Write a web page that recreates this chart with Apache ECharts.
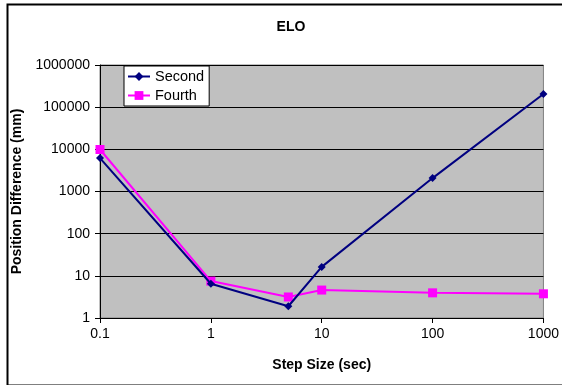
<!DOCTYPE html>
<html>
<head>
<meta charset="utf-8">
<script src="https://cdn.jsdelivr.net/npm/echarts@6/dist/echarts.min.js"></script>
<style>
  html, body { margin: 0; padding: 0; background: #fff; }
  #chart { width: 562px; height: 385px; }
</style>
</head>
<body>
<div id="chart"></div>
<script>
// Step sizes (sec) and position differences (mm) for the two integrators
const stepSizes = [0.1, 1, 5, 10, 100, 1000];
const secondValues = [6200, 6.5, 1.9, 16.3, 2080, 206000];
const fourthValues = [9900, 7.5, 3.15, 4.6, 3.95, 3.75];
const seriesNames = ['Second', 'Fourth'];

const FONT = 'Liberation Sans, Arial, sans-serif';

const pairs = vals => stepSizes.map((x, i) => [x, vals[i]]);
const plainNumber = v => {
  const r = Math.round(v * 1000) / 1000;
  return String(r);
};

const chart = echarts.init(document.getElementById('chart'), null, { renderer: 'canvas' });

chart.setOption({
  animation: false,
  backgroundColor: '#ffffff',
  title: {
    text: 'ELO',
    left: 286,
    textAlign: 'center',
    top: 15,
    textStyle: { fontFamily: FONT, fontSize: 14, fontWeight: 'bold', color: '#000' }
  },
  legend: {
    orient: 'vertical',
    left: 124,
    top: 66,
    padding: [3, 5, 3, 3],
    itemGap: 4,
    itemWidth: 22,
    itemHeight: 11,
    itemTextGap: 3,
    backgroundColor: '#ffffff',
    borderColor: '#000000',
    borderWidth: 1,
    borderRadius: 0,
    textStyle: { fontFamily: FONT, fontSize: 14.5, color: '#000' },
    data: seriesNames
  },
  grid: {
    left: 100,
    right: 16,
    top: 65,
    bottom: 67,
    show: true,
    backgroundColor: '#C0C0C0',
    borderColor: '#808080',
    borderWidth: 1,
    containLabel: false
  },
  xAxis: {
    type: 'log',
    logBase: 10,
    min: 0.1,
    max: 1000,
    splitNumber: 4,
    name: 'Step Size (sec)',
    nameLocation: 'middle',
    nameGap: 40,
    nameTextStyle: { fontFamily: FONT, fontSize: 14, fontWeight: 'bold', color: '#000' },
    axisLine: { show: true, lineStyle: { color: '#000', width: 1 } },
    axisTick: { show: true, inside: false, length: 5, lineStyle: { color: '#000' } },
    minorTick: { show: false },
    splitLine: { show: false },
    axisLabel: {
      fontFamily: FONT, fontSize: 14, color: '#000', margin: 9,
      formatter: plainNumber
    }
  },
  yAxis: {
    type: 'log',
    logBase: 10,
    min: 1,
    max: 1000000,
    splitNumber: 6,
    name: 'Position Difference (mm)',
    nameLocation: 'middle',
    nameGap: 69,
    nameTextStyle: { fontFamily: FONT, fontSize: 14, fontWeight: 'bold', color: '#000' },
    axisLine: { show: true, lineStyle: { color: '#000', width: 1 } },
    axisTick: { show: true, inside: false, length: 5, lineStyle: { color: '#000' } },
    splitLine: { show: true, lineStyle: { color: '#000', width: 1 } },
    axisLabel: {
      fontFamily: FONT, fontSize: 14, color: '#000', margin: 10,
      formatter: plainNumber
    }
  },
  series: [
    {
      name: seriesNames[0],
      type: 'line',
      data: pairs(secondValues),
      symbol: 'diamond',
      symbolSize: 8,
      lineStyle: { color: '#000080', width: 2 },
      itemStyle: { color: '#000080' },
      z: 3
    },
    {
      name: seriesNames[1],
      type: 'line',
      data: pairs(fourthValues),
      symbol: 'rect',
      symbolSize: 9,
      lineStyle: { color: '#FF00FF', width: 2 },
      itemStyle: { color: '#FF00FF' },
      z: 2
    }
  ],
  graphic: [
    {
      type: 'rect',
      left: 5,
      top: 2,
      shape: { width: 620, height: 381 },
      style: { fill: null, stroke: '#000', lineWidth: 2 },
      silent: true,
      z: 100
    }
  ]
});
</script>
</body>
</html>
